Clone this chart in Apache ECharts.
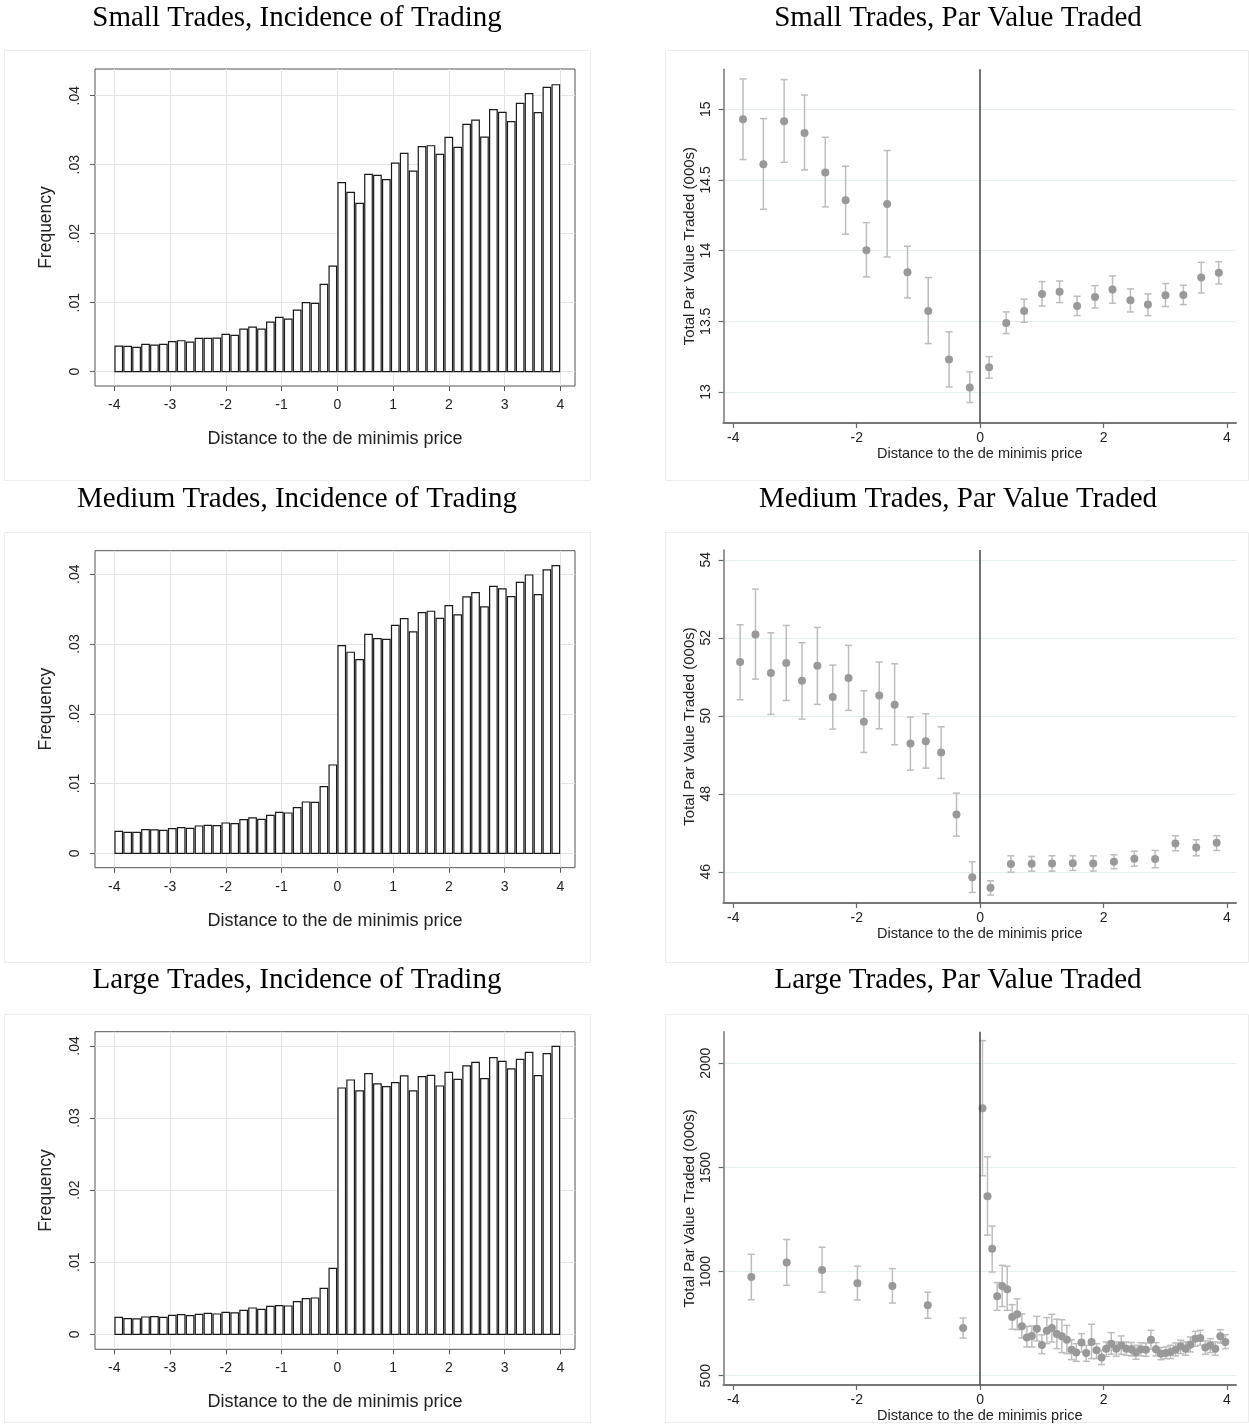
<!DOCTYPE html>
<html><head><meta charset="utf-8">
<script src="https://cdn.jsdelivr.net/npm/echarts@6/dist/echarts.min.js"></script>
<style>html,body{margin:0;padding:0;background:#fff}#c{width:1249px;height:1426px}</style>
</head><body><div id="c"></div><script>
// ---------- Histogram data (50 bins from -4 to 4) ----------
const binStart = -4, binWidth = 0.16;
const smallHist = [0.00372,0.00367,0.00353,0.00396,0.00386,0.00396,0.00435,0.00449,0.00430,0.00483,0.00483,0.00488,0.00541,0.00527,0.00618,0.00647,0.00618,0.00720,0.00787,0.00763,0.00894,0.01000,0.00990,0.01266,0.01531,
  0.02739,0.02599,0.02440,0.02860,0.02845,0.02783,0.03024,0.03164,0.02908,0.03261,0.03275,0.03150,0.03396,0.03251,0.03585,0.03647,0.03401,0.03797,0.03758,0.03623,0.03889,0.04029,0.03754,0.04121,0.04159];
const mediumHist = [0.00315,0.00301,0.00301,0.00339,0.00335,0.00330,0.00354,0.00368,0.00358,0.00392,0.00401,0.00397,0.00435,0.00425,0.00483,0.00507,0.00487,0.00545,0.00588,0.00578,0.00655,0.00736,0.00731,0.00956,0.01266,
  0.02977,0.02882,0.02777,0.03140,0.03078,0.03068,0.03269,0.03364,0.03173,0.03450,0.03470,0.03369,0.03551,0.03417,0.03675,0.03737,0.03532,0.03828,0.03790,0.03680,0.03885,0.03990,0.03708,0.04062,0.04124];
const largeHist = [0.00236,0.00217,0.00213,0.00240,0.00245,0.00236,0.00264,0.00273,0.00259,0.00277,0.00291,0.00282,0.00305,0.00296,0.00333,0.00365,0.00347,0.00388,0.00398,0.00393,0.00453,0.00495,0.00504,0.00638,0.00916,
  0.03417,0.03528,0.03376,0.03616,0.03473,0.03436,0.03491,0.03584,0.03376,0.03575,0.03593,0.03445,0.03635,0.03538,0.03723,0.03773,0.03547,0.03838,0.03787,0.03681,0.03815,0.03912,0.03588,0.03894,0.03995];

// ---------- Par value traded (point, upper CI, lower CI) ----------
const smallX  = [-3.843,-3.513,-3.177,-2.846,-2.510,-2.180,-1.843,-1.507,-1.177,-0.841,-0.504,-0.168,0.145,0.423,0.713,1.003,1.287,1.571,1.861,2.145,2.435,2.719,3.003,3.293,3.583,3.867];
const smallY  = [14.929,14.611,14.915,14.833,14.552,14.356,14.002,14.330,13.847,13.573,13.229,13.031,13.175,13.488,13.573,13.693,13.708,13.608,13.672,13.724,13.649,13.618,13.684,13.686,13.809,13.844];
const smallHi = [15.215,14.934,15.210,15.101,14.802,14.597,14.198,14.708,14.031,13.809,13.425,13.142,13.250,13.566,13.656,13.781,13.785,13.677,13.752,13.821,13.729,13.693,13.767,13.755,13.917,13.922];
const smallLo = [14.644,14.292,14.625,14.571,14.309,14.116,13.814,13.955,13.665,13.342,13.035,12.925,13.097,13.413,13.493,13.608,13.632,13.540,13.594,13.627,13.566,13.540,13.604,13.618,13.700,13.764];

const medX  = [-3.890,-3.641,-3.391,-3.142,-2.887,-2.638,-2.388,-2.133,-1.884,-1.635,-1.386,-1.130,-0.881,-0.632,-0.383,-0.128,0.168,0.499,0.835,1.165,1.501,1.832,2.168,2.499,2.835,3.165,3.501,3.832];
const medY  = [51.376,52.085,51.094,51.350,50.897,51.282,50.479,50.966,49.846,50.521,50.282,49.291,49.350,49.060,47.470,45.863,45.590,46.197,46.205,46.214,46.222,46.214,46.256,46.333,46.325,46.726,46.624,46.744];
const medHi = [52.333,53.248,52.128,52.316,51.872,52.265,51.299,51.803,50.641,51.376,51.333,49.966,50.051,49.718,48.017,46.256,45.769,46.410,46.393,46.410,46.410,46.410,46.436,46.530,46.547,46.923,46.821,46.923];
const medLo = [50.410,50.940,50.034,50.393,49.915,50.291,49.658,50.137,49.060,49.667,49.256,48.607,48.658,48.393,46.915,45.470,45.402,45.991,46.017,46.017,46.034,46.017,46.077,46.145,46.103,46.538,46.410,46.547];

const largeX  = [-3.708,-3.135,-2.562,-1.989,-1.422,-0.849,-0.276,
  0.038,0.119,0.195,0.276,0.357,0.438,0.519,0.600,0.676,0.757,0.838,0.919,1.000,1.081,1.162,1.243,1.324,1.405,1.481,1.557,1.643,1.719,1.805,1.886,1.968,2.043,2.124,2.205,2.286,2.368,2.449,2.524,2.605,2.686,2.768,2.849,2.930,3.011,3.086,3.168,3.249,3.330,3.405,3.486,3.568,3.649,3.730,3.811,3.892,3.973];
const largeY  = [974,1043,1008,944,931,838,729,
  1784,1362,1109,881,931,915,782,795,737,683,691,726,647,716,729,700,689,673,625,611,659,609,662,622,587,630,654,630,646,630,627,611,627,625,673,627,606,609,614,625,641,630,649,678,681,635,646,630,689,662];
const largeHi = [1083,1154,1117,1026,1014,901,777,
  2109,1551,1218,947,1030,1026,841,869,797,737,739,785,696,779,795,771,769,742,673,654,702,646,747,654,622,662,707,662,691,662,659,646,659,657,718,659,635,638,646,657,670,662,686,713,718,667,678,662,721,697];
const largeLo = [865,934,901,864,849,776,681,
  1460,1175,998,814,832,814,723,721,681,638,638,667,606,654,662,630,611,606,577,569,614,569,582,582,553,593,603,593,603,598,595,579,595,593,627,595,577,582,582,595,606,598,614,641,646,603,611,598,657,630];

// ---------- Tick labels ----------
const distTicks = [-4,-3,-2,-1,0,1,2,3,4];
const freqTicks = [0,0.01,0.02,0.03,0.04];
const parTicks = [-4,-2,0,2,4];
const smallParTicks = [13,13.5,14,14.5,15];
const medParTicks = [46,48,50,52,54];
const largeParTicks = [500,1000,1500,2000];

const titlesLeft = ['Small Trades, Incidence of Trading','Medium Trades, Incidence of Trading','Large Trades, Incidence of Trading'];
const titlesRight = ['Small Trades, Par Value Traded','Medium Trades, Par Value Traded','Large Trades, Par Value Traded'];

// ---------- layout ----------
const histGrids = [
  {top:69, height:317, ymin:-0.00207, ymax:0.04387},
  {top:550.7, height:317, ymin:-0.00206, ymax:0.04338},
  {top:1031.7, height:317.6, ymin:-0.00208, ymax:0.04198}
];
const parGrids = [
  {top:69.3, height:353.7, ymin:12.78, ymax:15.283, ticks:smallParTicks},
  {top:550, height:353, ymin:45.2, ymax:54.25, ticks:medParTicks},
  {top:1031.7, height:353.3, ymin:455.4, ymax:2151.7, ticks:largeParTicks}
];
const titleTops = [4, 485, 966];
const panelTops = [50, 532, 1014];
const panelHeights = [430, 430, 408];

const SANS = 'Liberation Sans';
const grid = [], xAxis = [], yAxis = [], series = [], title = [], graphic = [];

const freqFmt = v => v === 0 ? '0' : ('' + Math.round(v*100)/100).replace('0.', '.');

histGrids.forEach((g, i) => {
  grid.push({left:95, top:g.top, width:480, height:g.height, show:true, borderColor:'#555', borderWidth:1});
  xAxis.push({type:'value', gridIndex:i, min:-4.346, max:4.264,
    axisLine:{show:false, onZero:false},
    axisTick:{show:true, length:5, customValues:distTicks, lineStyle:{color:'#555'}},
    axisLabel:{customValues:distTicks, margin:12, fontSize:14, fontFamily:SANS, color:'#222', formatter:v=>'' + v},
    splitLine:{show:true, lineStyle:{color:'#e4e4e4', width:1}},
    name:'Distance to the de minimis price', nameLocation:'middle', nameGap:44,
    nameTextStyle:{fontSize:18, fontFamily:SANS, color:'#222'}});
  yAxis.push({type:'value', gridIndex:i, min:g.ymin, max:g.ymax,
    axisLine:{show:false, onZero:false},
    axisTick:{show:true, length:5, customValues:freqTicks, lineStyle:{color:'#555'}},
    axisLabel:{customValues:freqTicks, rotate:90, margin:13, fontSize:14, fontFamily:SANS, color:'#222', formatter:freqFmt},
    splitLine:{show:true, lineStyle:{color:'#e4e4e4', width:1}},
    name:'Frequency', nameLocation:'middle', nameRotate:90, nameGap:40,
    nameTextStyle:{fontSize:17.5, fontFamily:SANS, color:'#222'}});
  title.push({text:titlesLeft[i], left:297, top:titleTops[i], textAlign:'center', padding:0,
    textStyle:{fontFamily:'Liberation Serif', fontSize:29, fontWeight:'normal', color:'#000'}});
  graphic.push({type:'rect', shape:{x:4.5, y:panelTops[i]+0.5, width:586, height:panelHeights[i]},
    style:{fill:'none', stroke:'#ececec', lineWidth:1}, silent:true, z:-1});
});

parGrids.forEach((g, i) => {
  const gi = 3 + i;
  grid.push({left:723.5, top:g.top, width:512.5, height:g.height, show:false});
  xAxis.push({type:'value', gridIndex:gi, min:-4.159, max:4.146,
    axisLine:{show:true, onZero:false, lineStyle:{color:'#777', width:2}},
    axisTick:{show:true, length:5, customValues:parTicks, lineStyle:{color:'#666', width:1.2}},
    axisLabel:{customValues:parTicks, margin:8, fontSize:14, fontFamily:SANS, color:'#222', formatter:v=>'' + v},
    splitLine:{show:false},
    name:'Distance to the de minimis price', nameLocation:'middle', nameGap:23,
    nameTextStyle:{fontSize:14.5, fontFamily:SANS, color:'#222'}});
  yAxis.push({type:'value', gridIndex:gi, min:g.ymin, max:g.ymax,
    axisLine:{show:true, onZero:false, lineStyle:{color:'#777', width:1.5}},
    axisTick:{show:true, length:5, customValues:g.ticks, lineStyle:{color:'#666', width:1.2}},
    axisLabel:{customValues:g.ticks, rotate:90, margin:10, fontSize:14, fontFamily:SANS, color:'#222', formatter:v=>'' + v},
    splitLine:{show:true, lineStyle:{color:'#e6efef', width:1}},
    name:'Total Par Value Traded (000s)', nameLocation:'middle', nameRotate:90, nameGap:26,
    nameTextStyle:{fontSize:15, fontFamily:SANS, color:'#222'}});
  title.push({text:titlesRight[i], left:958, top:titleTops[i], textAlign:'center', padding:0,
    textStyle:{fontFamily:'Liberation Serif', fontSize:29, fontWeight:'normal', color:'#000'}});
  graphic.push({type:'rect', shape:{x:665.5, y:panelTops[i]+0.5, width:583, height:panelHeights[i]},
    style:{fill:'none', stroke:'#ececec', lineWidth:1}, silent:true, z:-1});
});

// Histogram bars
[smallHist, mediumHist, largeHist].forEach((vals, i) => {
  series.push({type:'custom', xAxisIndex:i, yAxisIndex:i,
    data: vals.map((v, k) => [binStart + k*binWidth, binStart + (k+1)*binWidth, v]),
    encode:{x:[0,1], y:2},
    renderItem:(params, api) => {
      const p0 = api.coord([api.value(0), 0]);
      const p1 = api.coord([api.value(1), api.value(2)]);
      return {type:'rect', shape:{x:p0[0]+0.7, y:p1[1], width:p1[0]-p0[0]-1.4, height:p0[1]-p1[1]},
        style:{fill:'#fff', stroke:'#1a1a1a', lineWidth:1.2}};
    }});
});

// Par value panels
const parSets = [[smallX, smallY, smallLo, smallHi],[medX, medY, medLo, medHi],[largeX, largeY, largeLo, largeHi]];
parSets.forEach((s, i) => {
  const gi = 3 + i;
  const [xs, ys, lo, hi] = s;
  series.push({type:'custom', xAxisIndex:gi, yAxisIndex:gi,
    data: xs.map((x, k) => [x, lo[k], hi[k]]),
    encode:{x:0, y:[1,2]}, z:2,
    renderItem:(params, api) => {
      const pl = api.coord([api.value(0), api.value(1)]);
      const ph = api.coord([api.value(0), api.value(2)]);
      const w = 3.5, st = {stroke:'#bdbdbd', lineWidth:1.5};
      return {type:'group', children:[
        {type:'line', shape:{x1:pl[0], y1:pl[1], x2:ph[0], y2:ph[1]}, style:st},
        {type:'line', shape:{x1:pl[0]-w, y1:pl[1], x2:pl[0]+w, y2:pl[1]}, style:st},
        {type:'line', shape:{x1:ph[0]-w, y1:ph[1], x2:ph[0]+w, y2:ph[1]}, style:st}
      ]};
    }});
  series.push({type:'scatter', xAxisIndex:gi, yAxisIndex:gi, z:3,
    data: xs.map((x, k) => [x, ys[k]]),
    symbol:'circle', symbolSize:8, itemStyle:{color:'#999', opacity:1},
    markLine:{silent:true, symbol:'none', animation:false, label:{show:false},
      lineStyle:{color:'#444', width:1.5, type:'solid'}, data:[{xAxis:0}]}});
});

const chart = echarts.init(document.getElementById('c'), null, {renderer:'canvas'});
chart.setOption({animation:false, backgroundColor:'#fff', title, grid, xAxis, yAxis, series, graphic});
</script></body></html>
